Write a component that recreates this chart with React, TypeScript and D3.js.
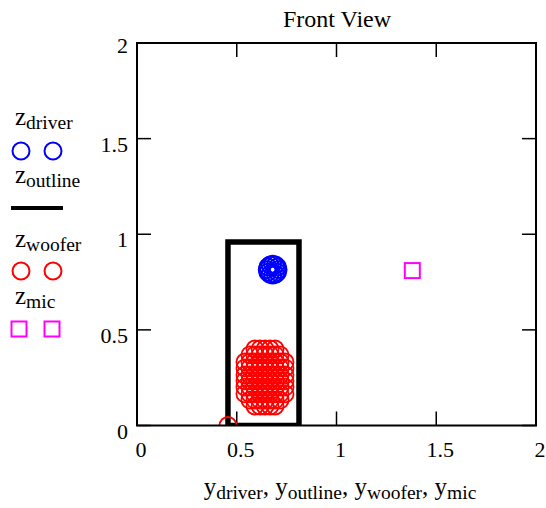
import React from "react";
import * as d3 from "d3";

const xTicks = [0, 0.5, 1, 1.5, 2];
const yTicks = [0, 0.5, 1, 1.5, 2];
const xTickLabels = ["0", "0.5", "1", "1.5", "2"];
const yTickLabels = ["0", "0.5", "1", "1.5", "2"];

const outlineY = [0.456, 0.456, 0.812, 0.812, 0.456];
const outlineZ = [0, 0.96, 0.96, 0, 0];

const driverY = [0.707, 0.704, 0.694, 0.68, 0.667, 0.656, 0.653, 0.656, 0.667, 0.68, 0.694, 0.704];
const driverZ = [0.815, 0.829, 0.839, 0.843, 0.839, 0.829, 0.815, 0.801, 0.791, 0.787, 0.791, 0.801];

const wooferPoints: [number, number][] = [
  [0.591, 0.4], [0.617, 0.4], [0.642, 0.4], [0.667, 0.4], [0.692, 0.4],
  [0.566, 0.369], [0.591, 0.369], [0.617, 0.369], [0.642, 0.369], [0.667, 0.369], [0.692, 0.369], [0.717, 0.369],
  [0.541, 0.332], [0.566, 0.332], [0.591, 0.332], [0.617, 0.332], [0.642, 0.332], [0.667, 0.332], [0.692, 0.332], [0.717, 0.332], [0.742, 0.332],
  [0.541, 0.301], [0.566, 0.301], [0.591, 0.301], [0.617, 0.301], [0.642, 0.301], [0.667, 0.301], [0.692, 0.301], [0.717, 0.301], [0.742, 0.301],
  [0.541, 0.264], [0.566, 0.264], [0.591, 0.264], [0.617, 0.264], [0.642, 0.264], [0.667, 0.264], [0.692, 0.264], [0.717, 0.264], [0.742, 0.264],
  [0.541, 0.233], [0.566, 0.233], [0.591, 0.233], [0.617, 0.233], [0.642, 0.233], [0.667, 0.233], [0.692, 0.233], [0.717, 0.233], [0.742, 0.233],
  [0.541, 0.201], [0.566, 0.201], [0.591, 0.201], [0.617, 0.201], [0.642, 0.201], [0.667, 0.201], [0.692, 0.201], [0.717, 0.201], [0.742, 0.201],
  [0.541, 0.165], [0.566, 0.165], [0.591, 0.165], [0.617, 0.165], [0.642, 0.165], [0.667, 0.165], [0.692, 0.165], [0.717, 0.165], [0.742, 0.165],
  [0.566, 0.133], [0.591, 0.133], [0.617, 0.133], [0.642, 0.133], [0.667, 0.133], [0.692, 0.133], [0.717, 0.133],
  [0.591, 0.102], [0.617, 0.102], [0.642, 0.102], [0.667, 0.102], [0.692, 0.102],
  [0.456, 0],
];

const micY = [1.38];
const micZ = [0.81];

const axisLabelParts = ["driver", "outline", "woofer", "mic"];

const FONT = "'Liberation Serif', 'Times New Roman', serif";

export default function App() {
  const left = 137, right = 536, top = 43, bottom = 425.5;
  const x = d3.scaleLinear().domain([0, 2]).range([left, right]);
  const y = d3.scaleLinear().domain([0, 2]).range([bottom, top]);
  const line = d3.line<number>().x((d, i) => x(outlineY[i])).y((d, i) => y(outlineZ[i]));
  const tickLen = 14;
  const r = 8.5;
  const sq = 15;

  const legendLabel = (px: number, py: number, s: string) => (
    <text x={px} y={py}>
      <tspan fontSize={25}>z</tspan>
      <tspan fontSize={19.5} dy={4}>{s}</tspan>
    </text>
  );

  return (
    <svg width={546} height={508} style={{ position: "absolute", left: 0, top: 0, background: "#fff" }} fontFamily={FONT}>
      <defs>
        <clipPath id="plotclip">
          <rect x={left} y={top} width={right - left} height={bottom - top} />
        </clipPath>
      </defs>
      <rect x={0} y={0} width={546} height={508} fill="#fff" />
      <text x={337} y={27} textAnchor="middle" fontSize={24}>Front View</text>
      {xTicks.map((t, i) => (
        <g key={"xt" + i}>
          <line x1={x(t)} x2={x(t)} y1={bottom} y2={bottom - tickLen} stroke="#000" strokeWidth={1.5} />
          <line x1={x(t)} x2={x(t)} y1={top} y2={top + tickLen} stroke="#000" strokeWidth={1.5} />
          <text x={x(t) + 4} y={457} textAnchor="middle" fontSize={22}>{xTickLabels[i]}</text>
        </g>
      ))}
      {yTicks.map((t, i) => (
        <g key={"yt" + i}>
          <line x1={left} x2={left + tickLen} y1={y(t)} y2={y(t)} stroke="#000" strokeWidth={1.5} />
          <line x1={right} x2={right - tickLen} y1={y(t)} y2={y(t)} stroke="#000" strokeWidth={1.5} />
          <text x={128} y={y(t) + (t === 2 ? 10 : 13)} textAnchor="end" fontSize={22}>{yTickLabels[i]}</text>
        </g>
      ))}
      <g clipPath="url(#plotclip)">
        {driverY.map((d, i) => (
          <circle key={"d" + i} cx={x(d)} cy={y(driverZ[i])} r={r} fill="none" stroke="#0000ff" strokeWidth={2} />
        ))}
        <path d={line(outlineY) || ""} fill="none" stroke="#000" strokeWidth={5.5} strokeLinejoin="miter" />
        {wooferPoints.map((p, i) => (
          <circle key={"w" + i} cx={x(p[0])} cy={y(p[1])} r={r} fill="none" stroke="#ff0000" strokeWidth={1.8} />
        ))}
        {micY.map((m, i) => (
          <rect key={"m" + i} x={x(m) - sq / 2} y={y(micZ[i]) - sq / 2} width={sq} height={sq} fill="none" stroke="#ff00ff" strokeWidth={2} />
        ))}
      </g>
      <rect x={left} y={top} width={right - left} height={bottom - top} fill="none" stroke="#000" strokeWidth={2} />
      {legendLabel(15, 125, "driver")}
      <circle cx={21} cy={151} r={r} fill="none" stroke="#0000ff" strokeWidth={2} />
      <circle cx={53} cy={151} r={r} fill="none" stroke="#0000ff" strokeWidth={2} />
      {legendLabel(15, 183, "outline")}
      <line x1={11} x2={63} y1={208} y2={208} stroke="#000" strokeWidth={4} />
      {legendLabel(15, 247, "woofer")}
      <circle cx={21} cy={271} r={r} fill="none" stroke="#ff0000" strokeWidth={2} />
      <circle cx={53} cy={271} r={r} fill="none" stroke="#ff0000" strokeWidth={2} />
      {legendLabel(15, 304, "mic")}
      <rect x={19 - sq / 2} y={329 - sq / 2} width={sq} height={sq} fill="none" stroke="#ff00ff" strokeWidth={2} />
      <rect x={52 - sq / 2} y={329 - sq / 2} width={sq} height={sq} fill="none" stroke="#ff00ff" strokeWidth={2} />
      <text x={340} y={495} textAnchor="middle">
        {axisLabelParts.map((p, i) => (
          <React.Fragment key={p}>
            <tspan fontSize={25} dy={i === 0 ? 0 : -4}>{(i === 0 ? "" : ", ") + "y"}</tspan>
            <tspan fontSize={19.5} dy={4}>{p}</tspan>
          </React.Fragment>
        ))}
      </text>
    </svg>
  );
}
